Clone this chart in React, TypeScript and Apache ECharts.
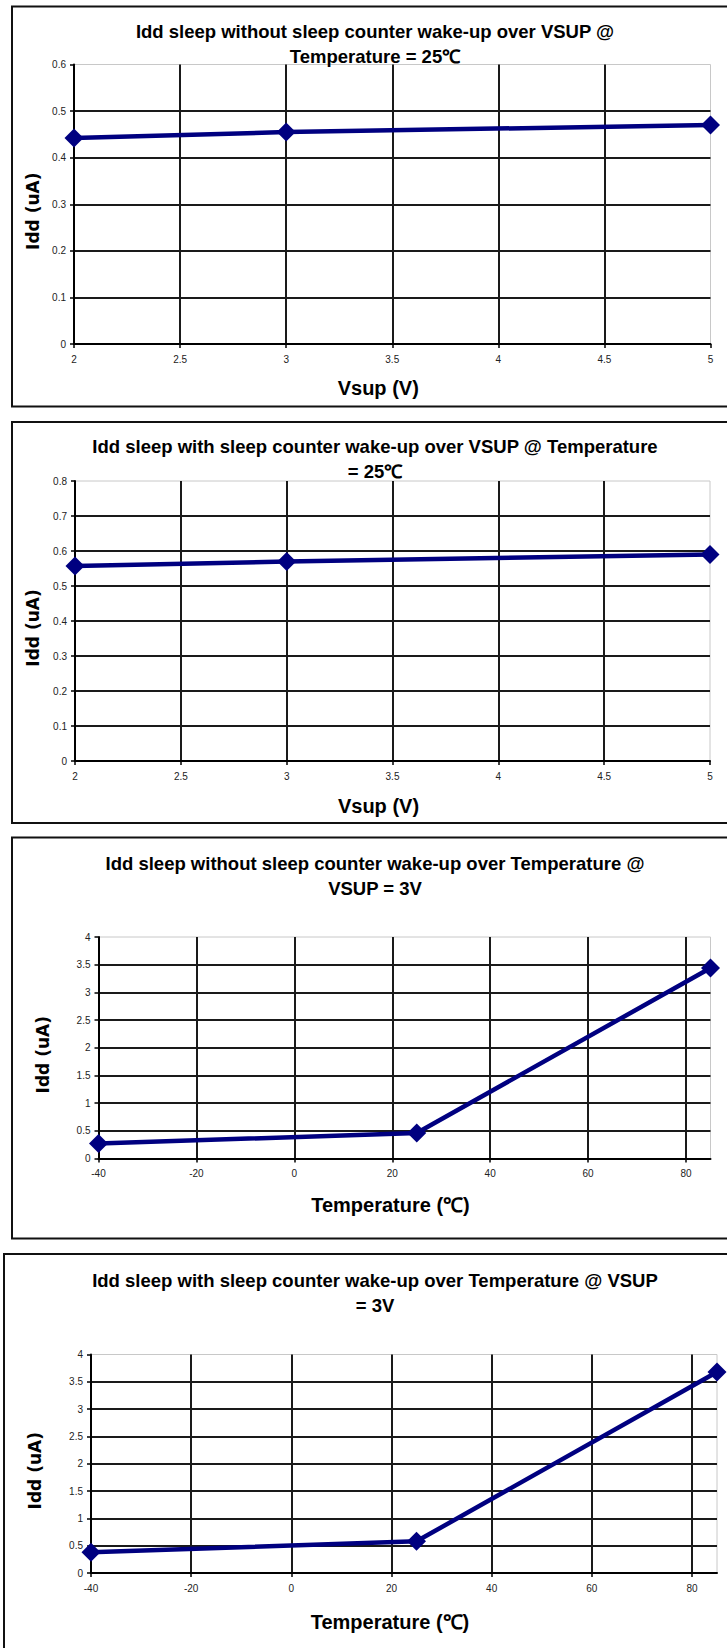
import React, { useEffect, useRef } from "react";
import * as echarts from "echarts";

// ---- data ----
const vsupValues = [2, 3, 5];
const iddNoCounterVsup = [0.442, 0.455, 0.47];
const iddCounterVsup = [0.557, 0.57, 0.59];
const tempValues = [-40, 25, 85];
const iddNoCounterTemp = [0.27, 0.46, 3.44];
const iddCounterTemp = [0.38, 0.58, 3.68];

const titles = [
  "Idd sleep without sleep counter wake-up over VSUP @\nTemperature = 25℃",
  "Idd sleep with sleep counter wake-up over VSUP @ Temperature\n= 25℃",
  "Idd sleep without sleep counter wake-up over Temperature @\nVSUP = 3V",
  "Idd sleep with sleep counter wake-up over Temperature @ VSUP\n= 3V",
];
const xNames = ["Vsup (V)", "Vsup (V)", "Temperature (℃)", "Temperature (℃)"];
const yName = "Idd (uA)";

// axis scales
const xScales = [
  { min: 2, max: 5, interval: 0.5 },
  { min: 2, max: 5, interval: 0.5 },
  { min: -40, max: 85, interval: 20 },
  { min: -40, max: 85, interval: 20 },
];
const yScales = [
  { min: 0, max: 0.6, interval: 0.1 },
  { min: 0, max: 0.8, interval: 0.1 },
  { min: 0, max: 4, interval: 0.5 },
  { min: 0, max: 4, interval: 0.5 },
];
const seriesData = [
  [vsupValues, iddNoCounterVsup],
  [vsupValues, iddCounterVsup],
  [tempValues, iddNoCounterTemp],
  [tempValues, iddCounterTemp],
];

// ---- layout ----
const grids = [
  { left: 74, top: 64.5, width: 636.5, height: 279.5 },
  { left: 75, top: 481, width: 635, height: 280 },
  { left: 98.5, top: 937, width: 612, height: 221.5 },
  { left: 91, top: 1354.5, width: 626, height: 218.5 },
];
const titleTops = [19, 434, 851, 1267.5];
const xNameGaps = [34, 35, 36, 39];
const yNameGaps = [32, 34, 47, 48];
const frames = [
  { x: 12, y: 6.5, w: 730, h: 400 },
  { x: 12, y: 422, w: 730, h: 401 },
  { x: 12, y: 837.5, w: 730, h: 401 },
  { x: 4, y: 1254, w: 740, h: 420 },
];

const LINE_COLOR = "#000080";
const SANS = "'Liberation Sans', Arial, sans-serif";

export default function App() {
  const ref = useRef<HTMLDivElement>(null);

  useEffect(() => {
    if (!ref.current) return;
    const chart = echarts.init(ref.current, undefined, { renderer: "svg" });

    const option: any = {
      animation: false,
      backgroundColor: "#ffffff",
      title: titles.map((t, i) => ({
        text: t,
        left: 375,
        top: titleTops[i],
        textAlign: "center",
        padding: 0,
        textStyle: {
          fontFamily: SANS,
          fontWeight: "bold",
          fontSize: 18.5,
          lineHeight: 25,
          color: "#000",
        },
      })),
      grid: grids.map((g) => ({
        ...g,
        show: true,
        borderColor: "#c8c8c8",
        borderWidth: 1,
        backgroundColor: "transparent",
        containLabel: false,
      })),
      xAxis: xScales.map((s, i) => ({
        type: "value",
        gridIndex: i,
        ...s,
        name: xNames[i],
        nameLocation: "middle",
        nameGap: xNameGaps[i],
        nameTextStyle: {
          fontFamily: SANS,
          fontWeight: "bold",
          fontSize: 20,
          color: "#000",
          padding: [0, 28, 0, 0],
        },
        axisLine: { show: true, onZero: false, lineStyle: { color: "#000", width: 2 } },
        axisTick: { show: true, length: 4, lineStyle: { color: "#000", width: 1.5 } },
        axisLabel: {
          fontFamily: SANS,
          fontSize: 10,
          color: "#222",
          margin: 10,
          showMaxLabel: i < 2,
        },
        splitLine: {
          show: true,
          showMinLine: false,
          showMaxLine: false,
          lineStyle: { color: "#1a1a1a", width: 2 },
        },
      })),
      yAxis: yScales.map((s, i) => ({
        type: "value",
        gridIndex: i,
        ...s,
        name: yName,
        nameLocation: "middle",
        nameRotate: 90,
        nameGap: yNameGaps[i],
        nameTextStyle: {
          fontFamily: "'DejaVu Sans', Verdana, sans-serif",
          fontWeight: "bold",
          fontSize: 17,
          color: "#000",
          padding: [0, 14, 0, 0],
        },
        axisLine: { show: true, onZero: false, lineStyle: { color: "#000", width: 2 } },
        axisTick: { show: true, length: 4, lineStyle: { color: "#000", width: 1.5 } },
        axisLabel: {
          fontFamily: SANS,
          fontSize: 10,
          color: "#222",
          margin: 8,
        },
        splitLine: {
          show: true,
          showMinLine: false,
          showMaxLine: false,
          lineStyle: { color: "#1a1a1a", width: 2 },
        },
      })),
      series: seriesData.map(([xs, ys], i) => ({
        type: "line",
        xAxisIndex: i,
        yAxisIndex: i,
        data: xs.map((x, k) => [x, ys[k]]),
        clip: false,
        symbol: "diamond",
        symbolSize: 19,
        lineStyle: { color: LINE_COLOR, width: 4.5 },
        itemStyle: { color: LINE_COLOR },
        z: 5,
      })),
      graphic: frames.map((f) => ({
        type: "rect",
        shape: { x: f.x, y: f.y, width: f.w, height: f.h },
        style: { fill: "none", stroke: "#111", lineWidth: 2 },
        silent: true,
        z: 0,
      })),
    };

    chart.setOption(option);
    return () => chart.dispose();
  }, []);

  return (
    <div
      ref={ref}
      style={{ position: "absolute", left: 0, top: 0, width: 727, height: 1648 }}
    />
  );
}
